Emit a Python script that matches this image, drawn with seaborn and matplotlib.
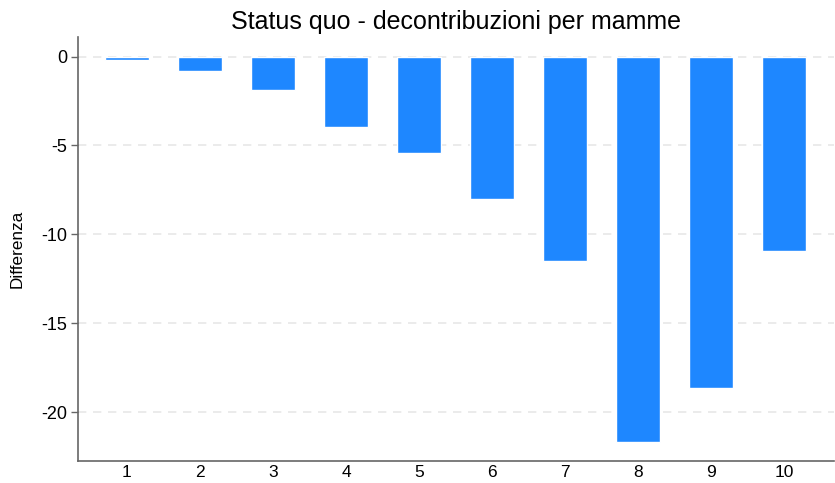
import matplotlib.pyplot as plt
import pandas as pd
import seaborn as sns

# Data
deciles = ["1", "2", "3", "4", "5", "6", "7", "8", "9", "10"]
differenza = [-0.17, -0.79, -1.86, -3.98, -5.45, -8.03, -11.5, -21.69, -18.65, -10.96]

df = pd.DataFrame({"decile": deciles, "diff": differenza})

sns.set_style("white")
plt.rcParams["font.family"] = ["Liberation Sans", "DejaVu Sans"]
plt.rcParams["text.color"] = "black"
plt.rcParams["axes.labelcolor"] = "black"
plt.rcParams["xtick.color"] = "black"
plt.rcParams["ytick.color"] = "black"

fig = plt.figure(figsize=(8.35, 4.83), dpi=100)
ax = fig.add_axes([0.0934, 0.0455, 0.905, 0.878])

sns.barplot(data=df, x="decile", y="diff", color="#1e87ff", saturation=1,
            width=0.6, ax=ax, zorder=3)

ax.set_xlim(-0.67, 9.68)
ax.set_ylim(-22.75, 1.1)
ax.set_yticks([0, -5, -10, -15, -20])
ax.set_yticklabels(["0", "-5", "-10", "-15", "-20"])
ax.yaxis.grid(True, linestyle=(0, (5, 4)), color="#e8e8e8", linewidth=1.2, zorder=0)

for side in ["top", "right"]:
    ax.spines[side].set_visible(False)
for side in ["left", "bottom"]:
    ax.spines[side].set_color("#666666")
    ax.spines[side].set_linewidth(1.2)

ax.tick_params(axis="y", length=5, width=1, color="#666666", labelcolor="black",
               labelsize=13, pad=3, left=True)
ax.tick_params(axis="x", length=0, labelcolor="black", labelsize=12.5, pad=3)

ax.set_xlabel("")
ax.set_ylabel("Differenza", fontsize=12.3, labelpad=12, color="black")
ax.set_title("Status quo - decontribuzioni per mamme", fontsize=18, pad=6, color="black")

fig.savefig("out.png", dpi=100)
